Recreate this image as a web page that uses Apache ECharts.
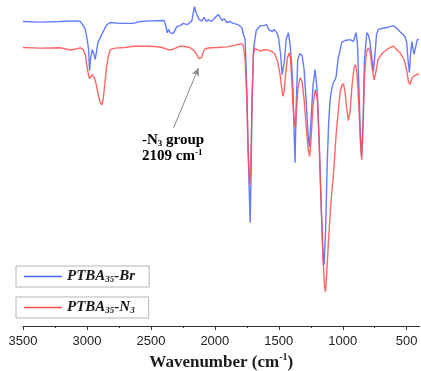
<!DOCTYPE html>
<html>
<head>
<meta charset="utf-8">
<script src="https://cdn.jsdelivr.net/npm/echarts@6/dist/echarts.min.js"></script>
<style>
    html, body { margin: 0; padding: 0; background: #fff; }
    #chart { width: 421px; height: 371px; }
</style>
</head>
<body>
<div id="chart"></div>
<script>
// wavenumber (cm-1) / transmittance (a.u.)
const brWavenumber = [3500, 3365, 3209, 3091, 3052, 3029, 3013, 2998, 2987, 2980, 2972, 2959, 2947, 2935, 2923, 2914, 2896, 2883, 2865, 2844, 2818, 2740, 2638, 2584, 2504, 2396, 2380, 2373, 2361, 2349, 2337, 2326, 2297, 2271, 2248, 2216, 2180, 2170, 2159, 2150, 2141, 2123, 2102, 2084, 2068, 2050, 2029, 2005, 1990, 1972, 1959, 1943, 1927, 1906, 1881, 1857, 1842, 1818, 1789, 1777, 1763, 1750, 1740, 1729, 1724, 1719, 1709, 1698, 1677, 1659, 1638, 1620, 1607, 1594, 1580, 1568, 1552, 1537, 1516, 1502, 1486, 1474, 1464, 1455, 1443, 1425, 1412, 1399, 1389, 1381, 1373, 1365, 1352, 1334, 1318, 1302, 1287, 1271, 1261, 1248, 1232, 1216, 1201, 1185, 1170, 1158, 1146, 1134, 1123, 1111, 1099, 1084, 1073, 1060, 1052, 1037, 1008, 982, 943, 917, 896, 885, 873, 861, 852, 841, 830, 812, 798, 787, 771, 761, 748, 736, 722, 693, 656, 630, 605, 576, 552, 529, 513, 500, 490, 479, 470, 460, 450, 443, 435, 427, 417, 405];
const brT = [96.2, 96.0, 96.2, 96.4, 96.2, 94.9, 93.7, 90.5, 87.3, 80.7, 84.2, 87.3, 86.1, 84.2, 87.3, 89.6, 91.1, 91.6, 93.7, 95.2, 95.9, 95.6, 95.6, 96.2, 96.4, 96.5, 94.3, 92.7, 93.7, 92.7, 93.3, 92.4, 94.6, 94.9, 95.6, 95.2, 96.4, 98.7, 100.9, 99.4, 98.4, 96.8, 96.4, 97.5, 96.2, 96.8, 96.2, 97.1, 97.8, 98.4, 97.5, 96.5, 97.1, 95.9, 96.2, 95.6, 95.9, 95.2, 94.3, 92.1, 90.5, 74.7, 55.7, 39.9, 32.6, 43.0, 71.5, 87.3, 93.3, 94.3, 94.9, 94.9, 94.3, 95.2, 93.7, 94.3, 93.0, 93.7, 92.7, 91.1, 85.8, 79.4, 78.8, 84.2, 90.5, 92.7, 88.9, 82.3, 74.7, 62.0, 51.6, 68.3, 84.2, 86.1, 85.4, 81.0, 71.5, 60.4, 56.6, 65.2, 76.3, 81.0, 74.7, 58.9, 39.9, 25.6, 19.3, 30.4, 49.4, 63.6, 71.5, 75.3, 76.9, 77.8, 78.8, 84.2, 89.6, 90.2, 90.5, 89.9, 92.7, 88.9, 74.7, 58.9, 53.5, 65.2, 84.2, 92.7, 91.8, 89.6, 84.2, 80.4, 85.8, 92.1, 93.7, 94.0, 94.3, 94.6, 94.9, 94.0, 93.0, 92.1, 91.4, 89.6, 84.2, 80.1, 85.8, 89.9, 87.3, 85.8, 87.3, 86.7, 90.5, 90.5];

const n3Wavenumber = [3500, 3365, 3209, 3130, 3084, 3052, 3029, 3013, 2998, 2987, 2980, 2970, 2959, 2943, 2927, 2912, 2896, 2883, 2873, 2861, 2849, 2834, 2818, 2779, 2701, 2636, 2545, 2466, 2412, 2365, 2334, 2271, 2232, 2193, 2162, 2141, 2127, 2115, 2104, 2092, 2076, 2037, 1974, 1906, 1857, 1802, 1783, 1775, 1763, 1750, 1740, 1728, 1719, 1709, 1698, 1689, 1677, 1662, 1646, 1623, 1594, 1568, 1545, 1529, 1509, 1490, 1478, 1469, 1459, 1447, 1433, 1417, 1408, 1399, 1389, 1377, 1369, 1362, 1350, 1334, 1318, 1302, 1287, 1271, 1259, 1248, 1232, 1216, 1209, 1197, 1185, 1170, 1154, 1142, 1135, 1126, 1111, 1091, 1073, 1052, 1034, 1020, 1008, 995, 982, 970, 956, 943, 927, 912, 900, 888, 873, 861, 852, 841, 830, 814, 800, 787, 771, 755, 740, 724, 708, 685, 656, 630, 605, 576, 552, 529, 513, 498, 487, 475, 463, 449, 436, 423, 405];
const n3T = [88.0, 87.8, 87.9, 87.2, 87.5, 87.9, 87.3, 85.8, 81.6, 79.1, 78.2, 78.8, 79.4, 78.5, 76.3, 73.1, 70.6, 69.9, 71.5, 76.3, 81.0, 85.1, 87.3, 87.8, 88.0, 88.4, 88.4, 88.3, 88.0, 87.3, 87.3, 88.4, 88.3, 87.9, 87.0, 85.8, 84.5, 83.9, 84.8, 86.4, 87.6, 87.9, 88.0, 88.2, 88.6, 89.1, 89.1, 88.0, 84.2, 71.5, 55.7, 44.6, 50.9, 71.5, 85.8, 87.6, 87.9, 87.3, 86.8, 87.2, 87.3, 87.0, 86.4, 85.8, 83.5, 79.4, 75.3, 72.6, 74.0, 79.4, 84.8, 86.3, 84.2, 77.8, 69.9, 63.6, 62.7, 68.3, 75.3, 78.5, 77.2, 71.5, 63.6, 56.3, 53.5, 58.9, 69.9, 74.7, 75.3, 71.5, 58.9, 39.9, 20.9, 12.3, 10.8, 16.1, 27.2, 39.9, 47.8, 60.4, 68.3, 74.0, 75.9, 76.6, 74.0, 69.0, 64.9, 67.7, 76.3, 81.6, 82.6, 79.4, 68.3, 57.3, 52.5, 63.6, 79.4, 86.7, 87.9, 86.7, 81.6, 77.8, 80.4, 84.2, 85.2, 86.4, 87.3, 88.0, 88.4, 87.3, 86.3, 84.8, 83.1, 80.4, 77.2, 76.3, 77.8, 78.8, 79.1, 79.4, 79.7];

const tickValues = [500, 1000, 1500, 2000, 2500, 3000, 3500];
const minorTickValues = [750, 1250, 1750, 2250, 2750, 3250];

// arrow from the label up to the azide band
const arrowFrom = [2323, 62.6];
const arrowTo = [2128, 81.5];

const serif = 'Liberation Serif';

function zip(xs, ys) {
    return xs.map((x, i) => [x, ys[i]]);
}

const legendText = {
    'PTBA35-Br': '{i|PTBA}{s|35}{i|-Br}',
    'PTBA35-N3': '{i|PTBA}{s|35}{i|-N}{s|3}',
};

function makeLegend(name, top) {
    return {
        data: [name],
        left: 16,
        top: top,
        orient: 'horizontal',
        padding: [3, 14, 3, 8],
        borderColor: '#b5b5b5',
        borderWidth: 1,
        icon: 'rect',
        itemWidth: 38,
        itemHeight: 1.4,
        formatter: (n) => legendText[n],
        textStyle: {
            rich: {
                i: { fontFamily: serif, fontStyle: 'italic', fontWeight: 'bold', fontSize: 15, color: '#1a1a1a', lineHeight: 15 },
                s: { fontFamily: serif, fontStyle: 'italic', fontWeight: 'bold', fontSize: 9, color: '#1a1a1a', verticalAlign: 'bottom', lineHeight: 9 },
            },
        },
    };
}

const myChart = echarts.init(document.getElementById('chart'), null, { renderer: 'canvas' });

const option = {
    animation: false,
    backgroundColor: '#fff',
    grid: {
        left: 23,
        right: 1.5,
        top: 0,
        bottom: 45,
        containLabel: false,
        outerBoundsMode: 'none',
    },
    legend: [makeLegend('PTBA35-Br', 266), makeLegend('PTBA35-N3', 297)],
    xAxis: [
        {
            type: 'value',
            inverse: true,
            min: 400,
            max: 3500,
            position: 'bottom',
            axisLine: { show: true, lineStyle: { color: '#333', width: 1 } },
            axisTick: { show: true, customValues: tickValues, length: 4, lineStyle: { color: '#333' } },
            axisLabel: {
                customValues: tickValues,
                formatter: (v) => String(v),
                fontFamily: 'Liberation Sans',
                fontSize: 13,
                color: '#222',
                margin: 9,
            },
            splitLine: { show: false },
            name: '{n|Wavenumber (cm}{s|-1}{n|)}',
            nameLocation: 'middle',
            nameGap: 25,
            nameTextStyle: {
                rich: {
                    n: { fontFamily: serif, fontWeight: 'bold', fontSize: 17, color: '#1a1a1a', lineHeight: 19 },
                    s: { fontFamily: serif, fontWeight: 'bold', fontSize: 10, color: '#1a1a1a', verticalAlign: 'top', lineHeight: 10 },
                },
            },
        },
        {
            type: 'value',
            inverse: true,
            min: 400,
            max: 3500,
            position: 'bottom',
            axisLine: { show: false },
            axisTick: { show: true, customValues: minorTickValues, length: 2, lineStyle: { color: '#333' } },
            axisLabel: { show: false },
            splitLine: { show: false },
        },
    ],
    yAxis: {
        type: 'value',
        min: 0,
        max: 103,
        show: false,
    },
    series: [
        {
            name: 'PTBA35-Br',
            type: 'line',
            symbol: 'none',
            showSymbol: false,
            clip: false,
            lineStyle: { color: '#4a64ff', width: 1.4, opacity: 0.85 },
            itemStyle: { color: '#4a64ff' },
            data: zip(brWavenumber, brT),
        },
        {
            name: 'PTBA35-N3',
            type: 'line',
            symbol: 'none',
            showSymbol: false,
            clip: false,
            lineStyle: { color: '#ff4c4c', width: 1.4, opacity: 0.85 },
            itemStyle: { color: '#ff4c4c' },
            data: zip(n3Wavenumber, n3T),
            markLine: {
                silent: true,
                symbol: ['none', 'arrow'],
                symbolSize: [6, 8],
                label: { show: false },
                lineStyle: { color: '#8a8a8a', width: 1, type: 'solid' },
                data: [[{ coord: arrowFrom }, { coord: arrowTo }]],
            },
        },
    ],
    graphic: [
        {
            type: 'text',
            left: 142,
            top: 133,
            style: {
                text: '{n|-N}{s|3}{n| group}\n{n|2109 cm}{p|-1}',
                rich: {
                    n: { fontFamily: serif, fontWeight: 'bold', fontSize: 15, color: '#1a1a1a', lineHeight: 16 },
                    s: { fontFamily: serif, fontWeight: 'bold', fontSize: 9, color: '#1a1a1a', verticalAlign: 'bottom', lineHeight: 11 },
                    p: { fontFamily: serif, fontWeight: 'bold', fontSize: 9, color: '#1a1a1a', verticalAlign: 'top', lineHeight: 9 },
                },
            },
        },
    ],
};

myChart.setOption(option);
</script>
</body>
</html>
